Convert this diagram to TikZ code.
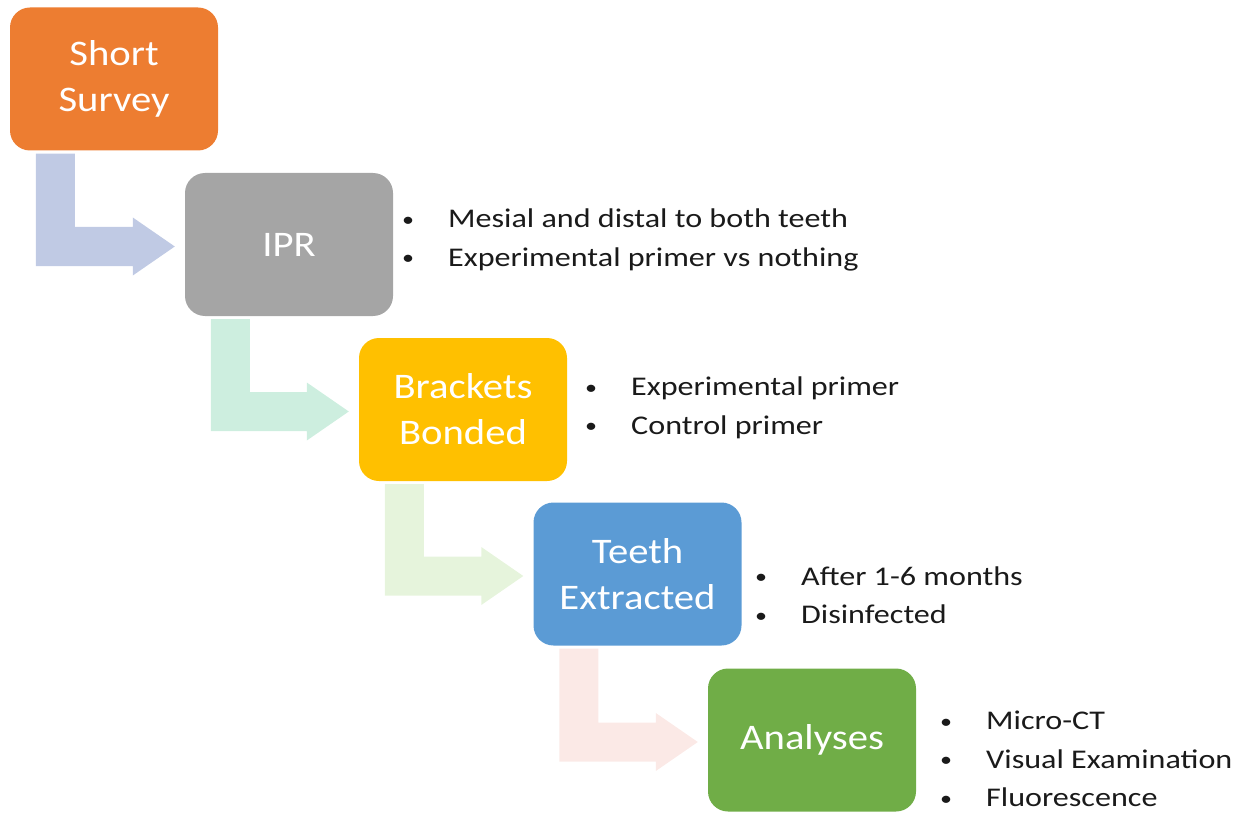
\documentclass[tikz,border=0pt]{standalone}
\usepackage{fontspec}
\setmainfont{Carlito}
\newfontfamily\boxfont[FakeStretch=1.13]{Carlito}
\newfontfamily\listfont[FakeStretch=1.19]{Carlito}
\usetikzlibrary{calc}
\definecolor{cOrange}{HTML}{ED7D31}
\definecolor{cGray}{HTML}{A5A5A5}
\definecolor{cGold}{HTML}{FFC000}
\definecolor{cBlue}{HTML}{5B9BD5}
\definecolor{cGreen}{HTML}{70AD47}
\definecolor{aBlue}{HTML}{C0CAE4}
\definecolor{aMint}{HTML}{CDEEDF}
\definecolor{aLime}{HTML}{E6F4DC}
\definecolor{aPink}{HTML}{FBE9E6}
\definecolor{txt}{HTML}{1A1A1A}
\newcommand{\bentarrow}[3]{%
  \fill[#3] let \p1=(#1.south west), \p2=(#2.west) in
    ({\x1+26pt},{\y1-3pt}) -- ({\x1+65pt},{\y1-3pt})
    -- ({\x1+65pt},{\y2-2pt+19.5pt}) -- ({\x2-52pt},{\y2-2pt+19.5pt})
    -- ({\x2-52pt},{\y2-2pt+29pt}) -- ({\x2-10pt},{\y2-2pt})
    -- ({\x2-52pt},{\y2-2pt-29pt}) -- ({\x2-52pt},{\y2-2pt-19.5pt})
    -- ({\x1+26pt},{\y2-2pt-19.5pt}) -- cycle;}
\newcommand{\bul}{\makebox[46pt][l]{\raisebox{1.5pt}{\scalebox{0.75}{\textbullet}}}}
\begin{document}
\begin{tikzpicture}[x=1pt,y=-1pt,
  stagebox/.style={rounded corners=20pt, minimum width=208pt, minimum height=143pt,
    inner sep=0pt, text=white, align=center, font=\boxfont\fontsize{36}{46}\selectfont},
  bullist/.style={anchor=west, align=left, inner sep=0pt, text=txt,
    font=\listfont\fontsize{27}{38.5}\selectfont}]
\useasboundingbox (0,0) rectangle (1245,813);
\node[stagebox, fill=cOrange] (s1) at (114,79) {Short\\Survey};
\node[stagebox, fill=cGray] (s2) at (289,244.5) {IPR};
\node[stagebox, fill=cGold] (s3) at (463,409.5) {Brackets\\Bonded};
\node[stagebox, fill=cBlue] (s4) at (637.5,574) {Teeth\\Extracted};
\node[stagebox, fill=cGreen] (s5) at (812,740) {Analyses};
\bentarrow{s1}{s2}{aBlue}
\bentarrow{s2}{s3}{aMint}
\bentarrow{s3}{s4}{aLime}
\bentarrow{s4}{s5}{aPink}
\node[bullist] (l2) at (402,240) {\bul Mesial and distal to both teeth\\\bul Experimental primer vs nothing};
\node[bullist] (l3) at (585,408) {\bul Experimental primer\\\bul Control primer};
\node[bullist] (l4) at (755,595) {\bul After 1-6 months\\\bul Disinfected};
\node[bullist] (l5) at (940,759) {\bul Micro-CT\\\bul Visual Examination\\\bul Fluorescence};
\end{tikzpicture}
\end{document}
